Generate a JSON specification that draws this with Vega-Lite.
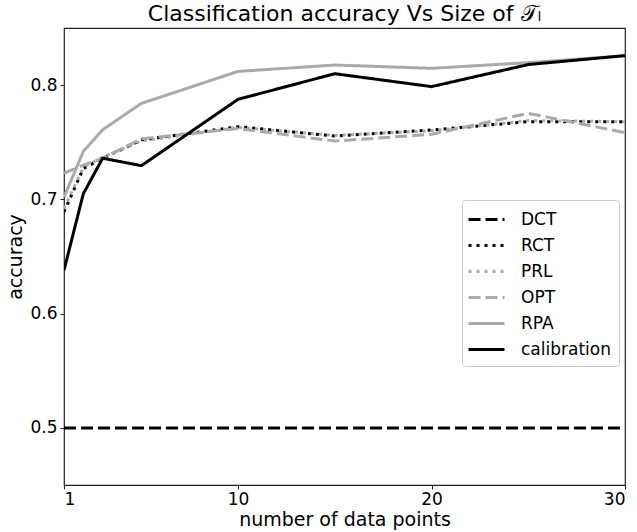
{
  "$schema": "https://vega.github.io/schema/vega-lite/v6.json",
  "width": 561,
  "height": 457,
  "autosize": "none",
  "padding": {"left": 64, "top": 28, "right": 12, "bottom": 47},
  "background": "white",
  "config": {
    "font": "DejaVu Sans",
    "view": {"stroke": "#222", "strokeWidth": 1.2},
    "axis": {"grid": false, "domain": false, "tickColor": "#222", "tickSize": 4, "labelFontSize": 17, "labelColor": "black", "titleFontSize": 19, "titleFontWeight": "normal", "titleColor": "black", "labelFont": "DejaVu Sans", "titleFont": "DejaVu Sans"}
  },
  "title": {"text": "Classification accuracy Vs Size of 𝒯ₗ", "fontSize": 22, "fontWeight": "normal", "font": "DejaVu Sans", "anchor": "middle", "offset": 2, "color": "black"},
  "data": {"values": [
    {"series": "DCT", "x": 1, "acc": 0.5},
    {"series": "DCT", "x": 30, "acc": 0.5},
    {"series": "RCT", "x": 1, "acc": 0.689},
    {"series": "RCT", "x": 2, "acc": 0.727},
    {"series": "RCT", "x": 3, "acc": 0.736},
    {"series": "RCT", "x": 5, "acc": 0.752},
    {"series": "RCT", "x": 10, "acc": 0.7636},
    {"series": "RCT", "x": 15, "acc": 0.7555},
    {"series": "RCT", "x": 20, "acc": 0.7607},
    {"series": "RCT", "x": 25, "acc": 0.768},
    {"series": "RCT", "x": 30, "acc": 0.768},
    {"series": "PRL", "x": 1, "acc": 0.692},
    {"series": "PRL", "x": 2, "acc": 0.728},
    {"series": "PRL", "x": 3, "acc": 0.737},
    {"series": "PRL", "x": 5, "acc": 0.751},
    {"series": "PRL", "x": 10, "acc": 0.763},
    {"series": "PRL", "x": 15, "acc": 0.756},
    {"series": "PRL", "x": 20, "acc": 0.760},
    {"series": "PRL", "x": 25, "acc": 0.769},
    {"series": "PRL", "x": 30, "acc": 0.768},
    {"series": "OPT", "x": 1, "acc": 0.723},
    {"series": "OPT", "x": 2, "acc": 0.730},
    {"series": "OPT", "x": 3, "acc": 0.736},
    {"series": "OPT", "x": 5, "acc": 0.753},
    {"series": "OPT", "x": 10, "acc": 0.762},
    {"series": "OPT", "x": 15, "acc": 0.751},
    {"series": "OPT", "x": 20, "acc": 0.757},
    {"series": "OPT", "x": 25, "acc": 0.7753},
    {"series": "OPT", "x": 30, "acc": 0.7584},
    {"series": "RPA", "x": 1, "acc": 0.702},
    {"series": "RPA", "x": 2, "acc": 0.742},
    {"series": "RPA", "x": 3, "acc": 0.761},
    {"series": "RPA", "x": 5, "acc": 0.784},
    {"series": "RPA", "x": 10, "acc": 0.812},
    {"series": "RPA", "x": 15, "acc": 0.8176},
    {"series": "RPA", "x": 20, "acc": 0.8147},
    {"series": "RPA", "x": 25, "acc": 0.8197},
    {"series": "RPA", "x": 30, "acc": 0.8258},
    {"series": "calibration", "x": 1, "acc": 0.638},
    {"series": "calibration", "x": 2, "acc": 0.705},
    {"series": "calibration", "x": 3, "acc": 0.736},
    {"series": "calibration", "x": 5, "acc": 0.7295},
    {"series": "calibration", "x": 10, "acc": 0.7876},
    {"series": "calibration", "x": 15, "acc": 0.810},
    {"series": "calibration", "x": 20, "acc": 0.7987},
    {"series": "calibration", "x": 25, "acc": 0.818},
    {"series": "calibration", "x": 30, "acc": 0.8258}
  ]},
  "mark": {"type": "line", "strokeWidth": 3, "clip": true},
  "encoding": {
    "x": {"field": "x", "type": "quantitative", "title": "number of data points",
      "scale": {"domain": [1, 30], "nice": false, "zero": false},
      "axis": {"values": [1, 10, 20, 30], "titlePadding": 3, "labelPadding": 2}},
    "y": {"field": "acc", "type": "quantitative", "title": "accuracy",
      "scale": {"domain": [0.45, 0.85], "nice": false, "zero": false},
      "axis": {"values": [0.5, 0.6, 0.7, 0.8], "format": ".1f", "titlePadding": 4, "labelPadding": 3}},
    "color": {"field": "series", "type": "nominal", "title": null,
      "scale": {"domain": ["DCT", "RCT", "PRL", "OPT", "RPA", "calibration"], "range": ["black", "black", "#aaaaaa", "#aaaaaa", "#aaaaaa", "black"]},
      "legend": {"orient": "none", "legendX": 398, "legendY": 172, "symbolType": "M-1.3,0H2.3", "symbolSize": 400, "symbolStrokeWidth": 3, "labelFontSize": 17, "labelFont": "DejaVu Sans", "labelColor": "black", "rowPadding": 6, "padding": 8, "fillColor": "white", "strokeColor": "#ccc", "cornerRadius": 3, "labelOffset": 28}},
    "strokeDash": {"field": "series", "type": "nominal", "title": null,
      "scale": {"domain": ["DCT", "RCT", "PRL", "OPT", "RPA", "calibration"], "range": [[12, 5], [3, 5], [3, 5], [12, 5], [1, 0], [1, 0]]}},
    "order": {"field": "x", "type": "quantitative"}
  }
}
